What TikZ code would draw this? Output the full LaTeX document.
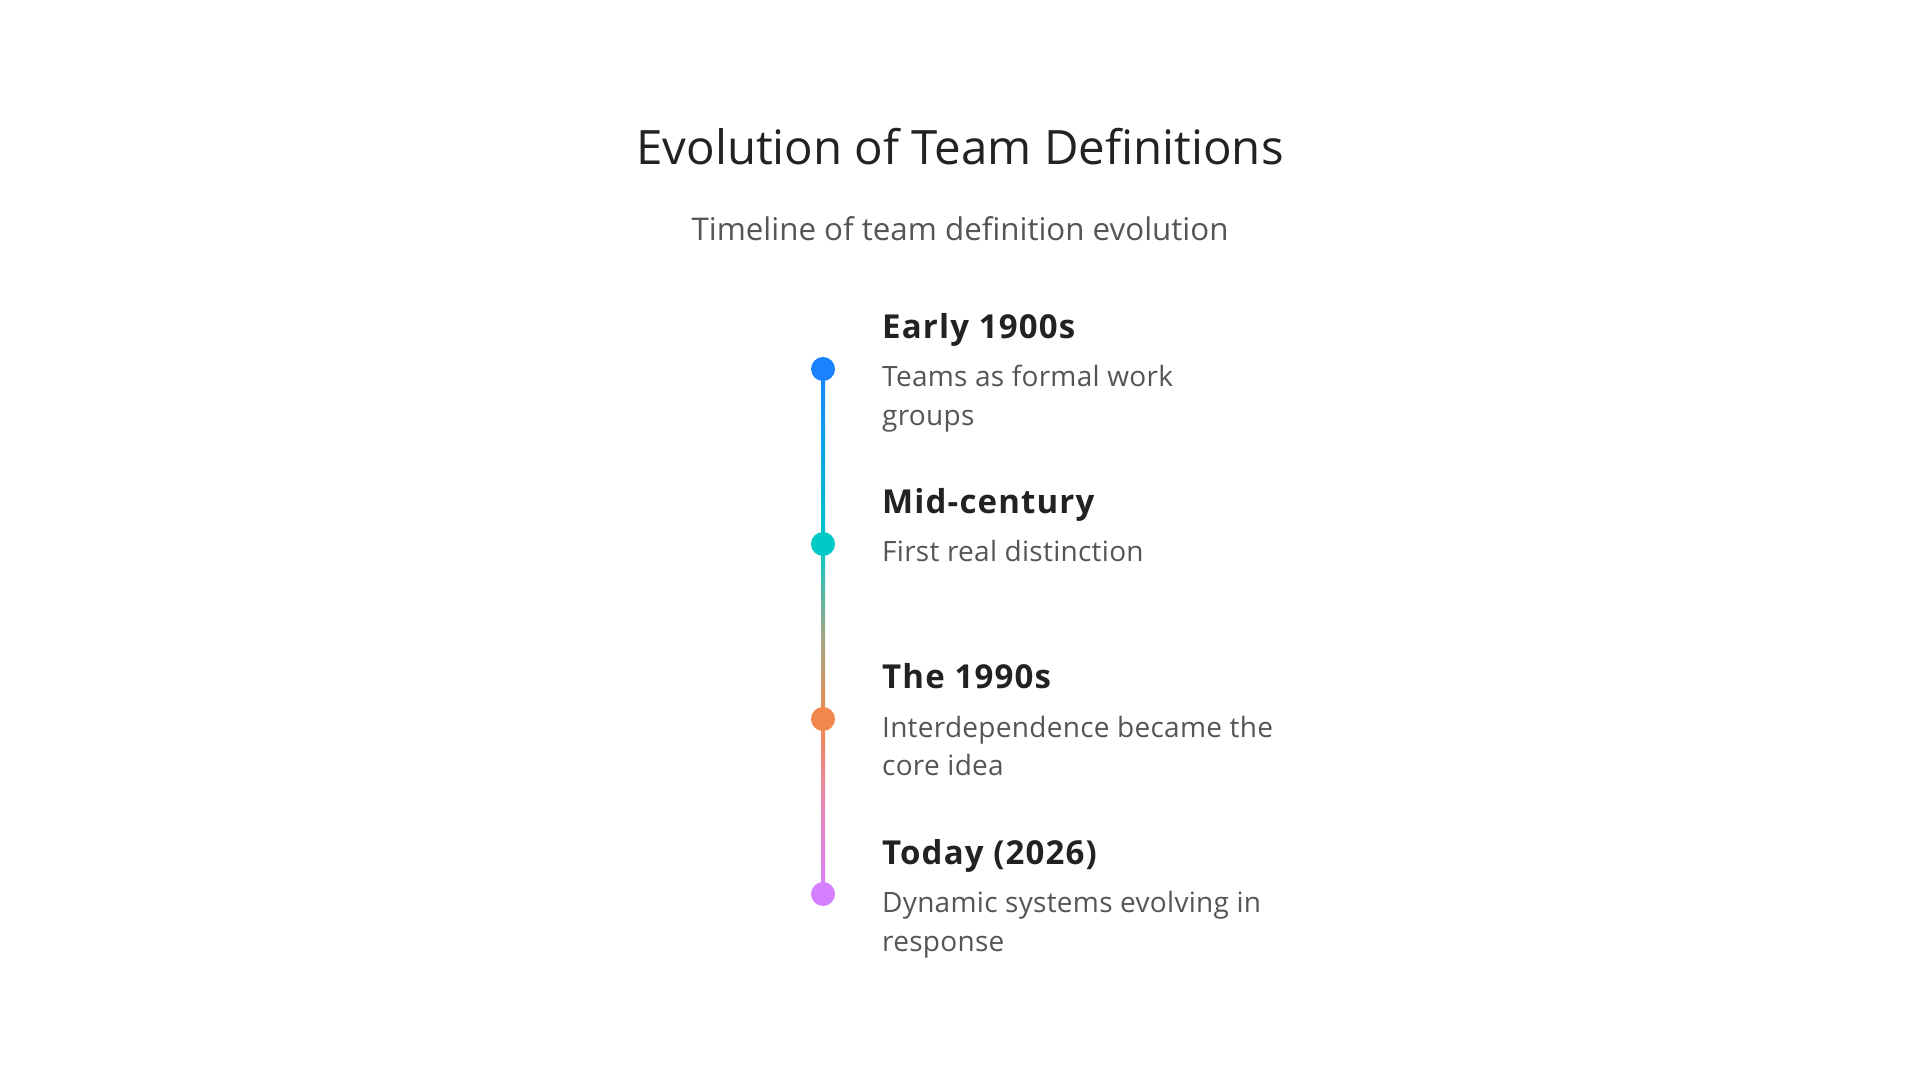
\documentclass[tikz,border=0pt]{standalone}
\usepackage{fontspec}
\setmainfont{Open Sans}
\newfontfamily\headfont{Open Sans}[LetterSpace=3.5]
\newfontfamily\descfont{Open Sans}[LetterSpace=1]
\definecolor{titlec}{HTML}{222222}
\definecolor{subc}{HTML}{555555}
\definecolor{headc}{HTML}{222222}
\definecolor{descc}{HTML}{555555}
\definecolor{cblue}{HTML}{1A82FF}
\definecolor{ccyan}{HTML}{00C9C8}
\definecolor{corange}{HTML}{F0884C}
\definecolor{cpurple}{HTML}{D580FF}
\definecolor{cmid}{HTML}{9AA888}
\definecolor{cpink}{HTML}{E889B8}
\begin{document}
\begin{tikzpicture}[x=1pt,y=1pt,
  titlestyle/.style={inner sep=0pt, anchor=base, text=titlec, font=\fontsize{47.4}{52}\selectfont},
  substyle/.style={inner sep=0pt, anchor=base, text=subc, font=\fontsize{31.3}{36}\selectfont},
  headstyle/.style={inner sep=0pt, anchor=base west, text=headc, font=\headfont\bfseries\fontsize{33}{38}\selectfont},
  descstyle/.style={inner sep=0pt, anchor=base west, align=left, text=descc, font=\descfont\fontsize{28}{39}\selectfont},
  dotstyle/.style={circle, inner sep=0pt, minimum size=24pt}
]
\useasboundingbox[fill=white] (0,0) rectangle (1920,1080);

\node[titlestyle] (title) at (960,915) {Evolution of Team Definitions};
\node[substyle] (sub) at (960,839) {Timeline of team definition evolution};

% timeline line segments
\coordinate (l1) at (823,711);
\coordinate (l2) at (823,536);
\coordinate (l3) at (823,361);
\coordinate (l4) at (823,186);
\shade[top color=cblue, bottom color=ccyan] ([xshift=-2pt]l1) rectangle ([xshift=2pt]l2);
\shade[top color=ccyan, bottom color=corange, middle color=cmid] ([xshift=-2pt]l2) rectangle ([xshift=2pt]l3);
\shade[top color=corange, bottom color=cpurple, middle color=cpink] ([xshift=-2pt]l3) rectangle ([xshift=2pt]l4);

\node[dotstyle, fill=cblue] (d1) at (l1) {};
\node[dotstyle, fill=ccyan] (d2) at (l2) {};
\node[dotstyle, fill=corange] (d3) at (l3) {};
\node[dotstyle, fill=cpurple] (d4) at (l4) {};

% multi-line nodes: base anchor is on the last line
\node[headstyle] (h1) at (882,741) {Early 1900s};
\node[descstyle] (t1) at (882,654) {Teams as formal work\\groups};
\node[headstyle] (h2) at (882,566) {Mid-century};
\node[descstyle] (t2) at (882,518) {First real distinction};
\node[headstyle] (h3) at (882,391) {The 1990s};
\node[descstyle] (t3) at (882,304) {Interdependence became the\\core idea};
\node[headstyle] (h4) at (882,216) {Today (2026)};
\node[descstyle] (t4) at (882,129) {Dynamic systems evolving in\\response};
\end{tikzpicture}
\end{document}
